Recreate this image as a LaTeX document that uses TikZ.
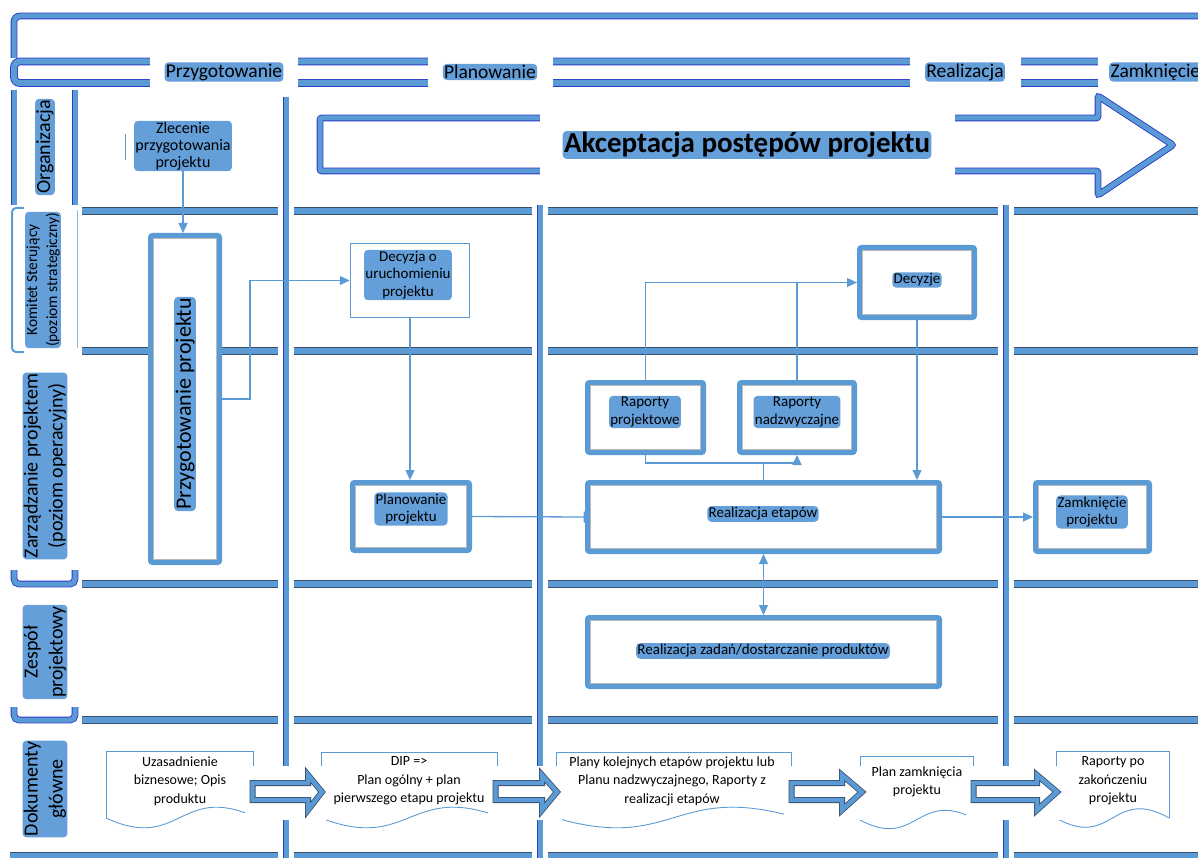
\documentclass[tikz,border=0pt]{standalone}
\usepackage{fontspec}
\setmainfont{Carlito}
\usetikzlibrary{arrows.meta,calc}
\definecolor{steel}{HTML}{5B9BD5}
\definecolor{steeldk}{HTML}{3A4F6A}
\definecolor{navy}{HTML}{2A3CC8}
\definecolor{halo}{HTML}{649FDA}
\newcommand\myfbox{\fontsize{15}{17.5}\selectfont}
\newcommand\myfdoc{\fontsize{14}{18.5}\selectfont}
\newcommand\myfhead{\fontsize{19.5}{22}\selectfont}
\newcommand\myflane{\fontsize{20}{25}\selectfont}
\tikzset{
  glow/.style={fill=halo, rounded corners=4pt, inner sep=1.3pt, text=black, align=center},
  pbox/.style={draw=steel, line width=5pt, fill=white, rounded corners=2pt, inner sep=0pt},
  innerline/.style={draw=gray!55, line width=0.8pt},
  conn/.style={draw=steel, line width=1.3pt, -{Triangle[length=10pt,width=9pt]}},
  plainline/.style={draw=steel, line width=1.3pt},
  dbar/.style={draw=navy, double=steel, line width=0.9pt, double distance=5pt},
  hbar/.style={draw=navy, double=steel, line width=0.9pt, double distance=6pt},
  sepbar/.style={draw=steeldk, double=steel, line width=0.8pt, double distance=6pt},
  vbar/.style={draw=navy, double=steel, line width=0.8pt, double distance=5pt},
  docline/.style={draw=steel, line width=0.9pt},
  doctext/.style={align=center, font=\myfdoc, inner sep=0pt},
  barrow/.style={draw=steeldk, double=steel, line width=0.8pt, double distance=4.4pt, fill=white},
  lanetext/.style={glow, rotate=90, font=\myflane},
}
\begin{document}
\begin{tikzpicture}[x=1pt,y=-1pt]
\useasboundingbox (0,0) rectangle (1198,858);
\clip (0,0) rectangle (1198,858);

% top frame and header bars
\draw[dbar, rounded corners=6pt] (14,58) -- (14,16) -- (1210,16);
\draw[hbar, rounded corners=6pt] (1210,61.5) -- (14,61.5) -- (14,83) -- (1210,83);

% left column of lane labels
\draw[dbar] (14,90) -- (14,205);
\draw[dbar] (75,90) -- (75,205);
\draw[steel, line width=2pt, rounded corners=4pt] (24,208) -- (12,208) -- (12,352) -- (24,352);
\draw[steel!70, line width=1pt] (77,210) -- (77,348);
\draw[dbar, rounded corners=5pt] (14,570) -- (14,584) -- (75,584) -- (75,570);
\draw[dbar, rounded corners=5pt] (14,707) -- (14,720) -- (75,720) -- (75,707);

% lane separators
\foreach \yy in {211,351,584,720} \draw[sepbar] (82,\yy) -- (1210,\yy);
\draw[sepbar] (10,856) -- (1210,856);

% phase boundaries
\foreach \xx/\ya in {286/97, 540/205, 1006/205} {
  \draw[white, line width=16pt] (\xx,\ya) -- (\xx,862);
  \draw[vbar] (\xx,\ya) -- (\xx,862);
}

% big arrow
\draw[dbar, fill=white, rounded corners=2pt] (320,118) -- (1098,118) -- (1098,96) -- (1173,145) -- (1098,195) -- (1098,171) -- (320,171) -- cycle;
\node[fill=white, minimum width=415, minimum height=80,
  label={[glow, font=\bfseries\fontsize{29}{33}\selectfont]center:Akceptacja postępów projektu}] (acc) at (747,145) {};

% header labels
\node[fill=white, minimum width=148, minimum height=40, label={[glow, font=\myfhead]center:Przygotowanie}] (hPrz) at (224,72) {};
\node[fill=white, minimum width=125, minimum height=40, label={[glow, font=\myfhead]center:Planowanie}] (hPlan) at (490,72) {};
\node[fill=white, minimum width=111, minimum height=40, label={[glow, font=\myfhead]center:Realizacja}] (hReal) at (965,72) {};
\node[fill=white, minimum width=110, minimum height=40] (hZamBg) at (1153,72) {};
\node[glow, font=\myfhead, anchor=west] (hZam) at (1109,72) {Zamknięcie};

% lane labels
\node[lanetext] (lOrg) at (45,147) {Organizacja};
\node[lanetext, font=\fontsize{15.5}{20}\selectfont] (lKom) at (43,280) {Komitet Sterujący\\(poziom strategiczny)};
\node[lanetext] (lZarz) at (45,466) {Zarządzanie projektem\\(poziom operacyjny)};
\node[lanetext] (lZesp) at (45,652) {Zespół\\projektowy};
\node[lanetext] (lDok) at (45,789) {Dokumenty\\główne};

% process nodes
\node[glow, font=\fontsize{16}{17}\selectfont] (zlec) at (183,146) {Zlecenie\\przygotowania\\projektu};
\draw[steel, line width=0.8pt] (125,134) -- (125,160);

\node[pbox, minimum width=69, minimum height=327] (przyg) at (185,399) {};
\node[draw=steel, line width=1.5pt, fill=white, minimum width=119, minimum height=74] (decU) at (410,280.5) {};
\node[pbox, minimum width=117, minimum height=68] (plan) at (411,516.5) {};
\node[pbox, minimum width=352, minimum height=69] (real) at (763.5,517) {};
\node[pbox, minimum width=114, minimum height=69] (zamk) at (1092.5,517) {};
\node[pbox, minimum width=116, minimum height=70] (rapP) at (645.5,417.5) {};
\node[pbox, minimum width=115, minimum height=70] (rapN) at (797,417.5) {};
\node[pbox, minimum width=115, minimum height=70] (dec) at (917,282.5) {};
\node[pbox, minimum width=352, minimum height=69] (zad) at (763.5,652) {};

\foreach \n in {przyg,plan,real,zamk,rapP,rapN,dec,zad}
  \draw[innerline] ([shift={(5.5pt,-5.5pt)}]\n.north west) rectangle ([shift={(-5.5pt,5.5pt)}]\n.south east);

\node[glow, rotate=90, font=\fontsize{22}{26}\selectfont] (przygT) at (185,404) {Przygotowanie projektu};
\node[glow, font=\myfbox] (decUT) at (408,275) {Decyzja o\\uruchomieniu\\projektu};
\node[glow, font=\myfbox] (planT) at (411,509) {Planowanie\\projektu};
\node[glow, font=\myfbox] (realT) at (763,514) {Realizacja etapów};
\node[glow, font=\myfbox] (zamkT) at (1092,512) {Zamknięcie\\projektu};
\node[glow, font=\myfbox] (rapPT) at (645,412) {Raporty\\projektowe};
\node[glow, font=\myfbox] (rapNT) at (797,412) {Raporty\\nadzwyczajne};
\node[glow, font=\myfbox] (decT) at (917,280) {Decyzje};
\node[glow, font=\myfbox] (zadT) at (763,651) {Realizacja zadań/dostarczanie produktów};

% connectors
\draw[conn] (zlec.south) -- (zlec.south |- przyg.north);
\draw[conn] (przyg.east) -- ++(28,0) |- (decU.west);
\draw[conn] (decU.south) -- (decU.south |- plan.north);
\draw[steel, line width=1.3pt, -{Bar[width=11pt]}] (plan.east) -- (real.west);
\draw[conn] (real.east) -- (zamk.west);
\draw[conn] (rapP.north) |- (dec.west);
\draw[plainline] (rapN.north) -- (rapN.north |- dec.west);
\draw[conn] (dec.south) -- (dec.south |- real.north);
\coordinate (jn) at ($(rapP.south)+(0,8)$);
\draw[conn] (rapP.south) -- (jn) -| (rapN.south);
\draw[plainline] (real.north) -- (real.north |- jn);
\draw[steel, line width=1.3pt, {Triangle[length=10pt,width=9pt]}-{Triangle[length=10pt,width=9pt]}] (real.south) -- (zad.north);

% documents
\draw[docline] (106,818) -- (106,751) -- (253,751) -- (253,816);
\draw[docline] (106,818) .. controls (179.5,852) and (179.5,784) .. (253,816);
\draw[docline] (321,818) -- (321,752) -- (497,752) -- (497,816);
\draw[docline] (321,818) .. controls (409,852) and (409,784) .. (497,816);
\draw[docline] (556,818) -- (556,752) -- (791,752) -- (791,816);
\draw[docline] (556,818) .. controls (673.5,852) and (673.5,784) .. (791,816);
\draw[docline] (860,820) -- (860,756) -- (973,756) -- (973,818);
\draw[docline] (860,820) .. controls (916.5,850) and (916.5,790) .. (973,818);
\draw[docline] (1056,818) -- (1056,751) -- (1169,751) -- (1169,818);
\draw[docline] (1056,818) .. controls (1112.5,850) and (1112.5,786) .. (1169,818);

\node[doctext] (d1) at (180,781) {Uzasadnienie\\biznesowe; Opis\\produktu};
\node[doctext] (d2) at (409,781) {DIP =>\\Plan ogólny + plan\\pierwszego etapu projektu};
\node[doctext] (d3) at (672,781) {Plany kolejnych etapów projektu lub\\Planu nadzwyczajnego, Raporty z\\realizacji etapów};
\node[doctext] (d4) at (917,782) {Plan zamknięcia\\projektu};
\node[doctext] (d5) at (1113,781) {Raporty po\\zakończeniu\\projektu};

% block arrows between documents
\foreach \xa/\xb/\xc in {250/308/325, 493/542/560, 789/842/865, 971/1037/1060} {
  \fill[white] (\xa-5,766) rectangle (\xc+2,820);
  \draw[barrow] (\xa+2.5,783) -- (\xb,783) -- (\xb,775) -- (\xc-3,792) -- (\xb,810) -- (\xb,800) -- (\xa+2.5,800) -- cycle;
}
\end{tikzpicture}
\end{document}
